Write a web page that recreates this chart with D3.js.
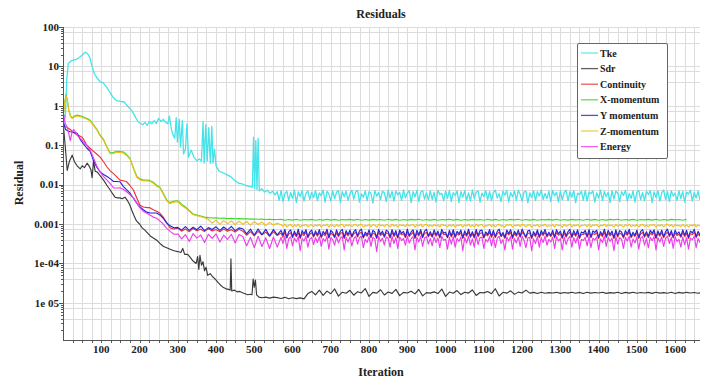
<!DOCTYPE html>
<html><head><meta charset="utf-8">
<script src="https://cdn.jsdelivr.net/npm/d3@7"></script>
<style>
html,body{margin:0;padding:0;background:#fff;}
svg text{font-family:"Liberation Serif","DejaVu Serif",serif;font-weight:bold;fill:#222;}
</style></head>
<body><svg id="c" width="708" height="380"></svg>
<script>
// ---------- DATA ----------
const seriesNames = ["Tke","Sdr","Continuity","X-momentum","Y momentum","Z-momentum","Energy"];
const seriesColors = ["#45e3ea","#3a3a3a","#e83434","#3ad82a","#2424dc","#f0c020","#ee3cee"];
const xTickValues = [100,200,300,400,500,600,700,800,900,1000,1100,1200,1300,1400,1500,1600];
const yTickValues = [100,10,1,0.1,0.01,0.001,1e-4,1e-5];
const yTickLabels = ["100","10","1","0.1","0.01","0.001","1e-04","1e 05"];

// transient parts: [iteration, residual]
const tkeStart = [[3,0.6],[6,0.5],[10,5],[14,12],[22,14],[35,15],[45,17.5],[52,20],[58,23],[64,21],[70,17],[76,10],[82,6.5],[90,5],[97,4.1],[105,3.8],[110,3.3],[118,2.6],[125,2.0],[132,1.6],[140,1.35],[150,1.3],[160,1.25],[168,1.0],[175,0.85],[182,0.7],[190,0.5],[196,0.4],[202,0.36],[208,0.33],[214,0.38],[220,0.32],[226,0.4],[232,0.35],[238,0.42],[244,0.36],[250,0.48],[256,0.4],[262,0.45],[268,0.38],[274,0.35],[278,0.55],[282,0.3],[286,0.2],[292,0.15],[296,0.5],[299,0.12],[304,0.45],[307,0.09],[312,0.42],[315,0.06],[320,0.08],[324,0.35],[328,0.05],[335,0.075],[342,0.05],[350,0.04],[356,0.045],[362,0.04],[366,0.4],[369,0.035],[373,0.33],[377,0.04],[381,0.28],[385,0.035],[389,0.3],[392,0.035],[396,0.08],[400,0.03],[408,0.022],[418,0.02],[428,0.018],[438,0.016],[448,0.013],[458,0.011],[468,0.0105],[478,0.0095],[488,0.009],[495,0.0085],[498,0.16],[501,0.008],[504,0.13],[507,0.0075],[510,0.15],[513,0.007],[520,0.0078],[527,0.0065],[534,0.0072],[541,0.006],[548,0.0068],[554,0.0055]];
const sdrStart = [[1,0.32],[6,0.09],[11,0.023],[17,0.04],[24,0.056],[30,0.038],[37,0.03],[45,0.025],[50,0.03],[56,0.027],[63,0.035],[68,0.03],[73,0.024],[76,0.015],[80,0.04],[84,0.022],[89,0.021],[97,0.017],[106,0.013],[115,0.0095],[123,0.0074],[130,0.0058],[136,0.0048],[143,0.0046],[149,0.0046],[155,0.0044],[162,0.0048],[168,0.004],[175,0.003],[180,0.0022],[186,0.0016],[192,0.0012],[200,0.001],[207,0.0008],[214,0.0007],[222,0.00058],[230,0.00048],[238,0.00043],[245,0.00039],[255,0.00031],[263,0.00027],[271,0.00025],[280,0.00023],[290,0.00021],[300,0.0002],[308,0.00019],[313,0.00024],[318,0.00017],[326,0.00017],[333,0.00014],[340,0.000115],[348,0.0001],[352,0.00015],[355,0.00007],[358,0.00016],[362,0.00009],[366,0.00011],[370,0.000065],[374,0.00008],[378,0.00005],[385,0.000055],[391,0.000046],[398,0.00004],[405,0.000033],[412,0.000028],[418,0.000025],[425,0.000023],[432,0.000022],[437,0.000021],[439,0.00013],[441,0.00002],[448,0.000021],[455,0.000019],[462,0.0000195],[469,0.000018],[476,0.000017],[483,0.000016],[490,0.0000165],[494,0.000016],[497,0.00004],[500,0.000025],[503,0.000038],[506,0.000016],[512,0.000014],[520,0.0000135],[530,0.000014],[540,0.0000132],[550,0.000014]];
const contStart = [[0,0.35],[5,0.3],[12,0.28],[19,0.25],[28,0.21],[37,0.18],[45,0.17],[50,0.16],[56,0.13],[62,0.1],[70,0.085],[80,0.07],[88,0.06],[97,0.05],[106,0.038],[115,0.028],[124,0.022],[132,0.019],[140,0.016],[149,0.013],[157,0.0125],[166,0.012],[175,0.0095],[184,0.0073],[192,0.0048],[201,0.003],[210,0.0027],[220,0.0026],[227,0.0026],[236,0.0023],[245,0.0021],[253,0.0019],[262,0.0015],[270,0.0011],[280,0.0008],[290,0.00075]];
const xmomStart = [[0,0.5],[4,1.2],[8,1.9],[11,1.5],[15,0.8],[20,0.55],[24,0.5],[30,0.55],[37,0.58],[45,0.56],[52,0.53],[58,0.5],[65,0.47],[71,0.43],[80,0.33],[89,0.25],[97,0.18],[106,0.14],[115,0.09],[123,0.064],[130,0.064],[140,0.07],[149,0.069],[158,0.067],[166,0.058],[175,0.047],[184,0.027],[193,0.016],[201,0.014],[210,0.013],[219,0.013],[227,0.0128],[236,0.0115],[245,0.0095],[253,0.0087],[262,0.006],[271,0.0041],[279,0.0035],[290,0.0038]];
const ymomStart = [[0,0.45],[4,0.3],[7,0.25],[13,0.23],[19,0.22],[28,0.21],[37,0.2],[45,0.14],[53,0.11],[62,0.085],[71,0.07],[80,0.04],[88,0.028],[97,0.021],[106,0.018],[115,0.016],[124,0.014],[132,0.012],[140,0.012],[149,0.0118],[158,0.0089],[166,0.0075],[175,0.0061],[184,0.0045],[193,0.0034],[201,0.0027],[210,0.0023],[219,0.002],[228,0.0019],[236,0.0019],[245,0.0019],[253,0.0017],[262,0.0014],[270,0.0011],[280,0.0009],[290,0.0008]];
const zmomStart = [[0,0.48],[4,1.15],[8,1.8],[11,1.42],[15,0.76],[20,0.52],[24,0.475],[30,0.52],[37,0.55],[45,0.53],[52,0.5],[58,0.475],[65,0.445],[71,0.41],[80,0.315],[89,0.238],[97,0.171],[106,0.133],[115,0.086],[123,0.061],[130,0.061],[140,0.0665],[149,0.0655],[158,0.0637],[166,0.055],[175,0.0447],[184,0.0257],[193,0.0152],[201,0.0133],[210,0.0124],[219,0.0124],[227,0.0122],[236,0.0109],[245,0.009],[253,0.0083],[262,0.0057],[271,0.0039],[279,0.0033],[290,0.0036]];
const energyStart = [[0,0.7],[3,0.5],[6,0.35],[11,0.29],[15,0.2],[19,0.13],[23,0.2],[28,0.25],[35,0.2],[41,0.16],[48,0.14],[54,0.12],[62,0.1],[71,0.075],[80,0.047],[88,0.03],[97,0.021],[106,0.016],[115,0.013],[124,0.0105],[132,0.0083],[140,0.0082],[149,0.0083],[158,0.0075],[166,0.0066],[175,0.0056],[184,0.0046],[192,0.0035],[201,0.0026],[210,0.0021],[218,0.0019],[227,0.0017],[236,0.0015],[245,0.0014],[253,0.0012],[262,0.001],[270,0.0008],[280,0.00065],[290,0.00055]];

// oscillating parts: iterations 300..560 every 10 (mid), 560/570..1670 every 5 (steady)
const tkeSteady = [ // x1e-3, from 560, every 5
6.6,4.0,7.1,3.7,5.9,6.8,3.9,6.3,4.5,7.2,3.5,6.5,5.0,7.0,3.8,6.1,6.9,4.2,6.4,4.7,
7.0,3.9,6.2,5.2,7.3,3.6,6.7,5.8,3.8,6.9,4.4,6.4,7.1,3.5,6.6,4.9,6.8,4.0,6.0,7.2,
4.3,6.5,7.1,3.6,5.8,4.8,6.9,3.9,6.6,6.0,3.4,7.0,5.1,6.3,4.1,6.8,6.2,3.7,7.2,4.6,
6.7,3.8,6.9,5.5,6.3,4.0,7.3,4.6,6.1,7.0,3.5,6.6,4.9,7.1,3.7,6.4,7.0,4.3,6.2,4.1,
6.9,4.2,6.4,3.6,7.2,5.6,6.0,3.9,6.8,4.5,7.1,3.7,6.3,5.3,6.9,3.5,6.6,4.8,7.0,4.0,
6.2,3.8,7.3,4.4,6.5,6.9,3.6,6.1,5.0,7.0,4.1,6.7,3.9,6.4,7.2,4.6,5.9,3.7,6.8,5.4,
7.1,3.6,6.3,4.9,6.9,4.0,7.2,5.7,3.8,6.5,6.8,3.5,6.2,4.7,7.0,3.9,6.6,5.1,7.3,4.2,
6.0,4.4,6.8,3.7,7.1,5.2,6.4,3.6,6.9,4.1,6.3,7.2,3.9,6.6,4.8,7.0,3.5,6.1,5.5,6.8,
4.0,7.1,3.8,6.5,5.9,6.9,3.6,6.2,4.6,7.3,3.9,6.7,5.0,6.4,3.5,7.0,4.3,6.8,6.1,3.7,
6.6,5.3,7.2,3.8,6.0,4.5,6.9,3.6,6.4,7.1,4.1,6.3,3.9,6.8,5.6,7.0,3.5,6.5,4.7,6.9,
3.8,6.2,7.3,4.2,6.6,3.7,6.9,5.1,6.1,3.9,7.0,4.4,6.7,3.6,6.4,5.8,7.2,3.8,6.3,4.6,
6.8,4.0];
const sdrSteady = [ // x1e-6, from 560, every 10
13.6,12.9,13.8,12.7,13.5,12.8,13.4,12.6,17.2,19.5,16.0,21.0,15.5,19.8,17.0,22.5,14.8,18.6,17.5,20.8,15.6,19.2,17.8,23.0,14.5,18.4,17.6,21.5,15.8,18.9,17.4,22.0,15.2,18.5,17.8,19.6,16.9,21.8,15.0,18.2,17.6,19.0,17.2,22.4,14.6,18.8,17.5,20.5,16.2,18.6,17.7,21.2,15.4,18.3,17.9,19.4,17.1,22.8,14.9,18.5,17.6,20.2,16.4,18.7,17.8,21.0,17.6,18.4,17.3,18.6,17.5,18.2,17.8,18.5,17.4,18.3,17.7,18.6,17.5,18.4,17.2,18.5,17.6,18.3,17.8,18.6,17.4,18.2,17.7,18.5,17.3,18.4,17.6,18.6,17.5,18.3,17.8,18.4,17.4,18.5,17.7,18.2,17.5,18.6,17.3,18.4,17.6,18.5,17.8,18.3,17.5,18.4];
// x1e-4, from 300, every 10
const xmomBand = [39,32,27,22,18,17,16,15,14.5,14.2,14.3,14.0,14.1,13.8,13.9,13.6,13.7,13.5,13.6,13.3,13.4,13.2,13.3,13.0,13.1,12.9,13.0,13.1,12.5,13.0,12.6,13.2,12.5,13.0,12.7,13.1,12.5,13.0,12.6,13.2,12.6,13.1,12.5,13.0,12.7,13.1,12.6,13.2,12.5,13.0,12.6,13.1,12.7,13.0,12.5,13.2,12.6,13.1,12.5,13.0,12.6,13.1,12.7,13.2,12.5,13.0,12.6,13.1,12.5,13.0,12.7,13.2,12.6,13.1,12.5,13.0,12.6,13.1,12.7,13.0,12.5,13.2,12.6,13.1,12.5,13.0,12.6,13.1,12.7,13.2,12.5,13.0,12.6,13.1,12.5,13.0,12.7,13.1,12.6,13.2,12.5,13.0,12.6,13.1,12.7,13.0,12.5,13.2,12.6,13.1,12.5,13.0,12.6,13.1,12.7,13.2,12.5,13.0,12.6,13.1,12.5,13.0,12.7,13.1,12.6,13.2,12.5,13.0,12.6,13.1,12.7,13.0,12.5,13.1];
const contMid = [7.8,6.6,7.5,6.4,7.7,6.8,7.4,6.5,7.6,6.7,7.3,6.4,7.5,6.6,7.2,6.3,7.4,6.6,5.2,6.4,5.0,6.5,5.3,6.2,4.9,6.3,5.1];
const ymomMid = [8.2,7.0,8.6,6.9,8.3,7.2,8.8,6.8,8.1,7.3,8.5,6.9,8.4,7.1,8.7,6.8,8.0,7.6,5.6,7.4,5.2,7.5,5.4,7.3,5.0,7.2,5.3];
const zmomMid = [37,29.5,25.5,21,17.2,16.2,15.3,14.5,13.0,10.5,12.6,9.8,12.2,10.2,12.0,9.6,11.8,9.9,11.6,9.4,11.5,9.7,11.2,9.2,11.0,9.5,10.4];
const energyMid = [5.6,4.2,5.4,3.6,5.7,4.4,5.3,3.4,5.5,4.3,5.6,3.5,5.2,4.1,5.5,3.3,5.4,4.8,2.8,4.6,2.5,4.9,2.7,4.5,2.4,4.7,2.6];
// x1e-4, from 570, every 5
const contSteady = [
5.9,4.6,6.2,4.4,5.6,6.0,4.5,5.8,4.8,6.1,4.3,5.7,5.1,6.2,4.5,5.5,6.0,4.7,5.9,4.9,
6.1,4.5,5.7,5.0,6.2,4.4,5.9,5.4,4.5,6.0,4.8,5.8,6.1,4.3,5.9,5.0,6.0,4.6,5.6,6.2,
4.7,5.8,6.2,4.4,5.5,4.9,6.0,4.5,5.9,5.6,4.3,6.1,5.1,5.8,4.6,6.0,5.7,4.4,6.2,4.8,
5.8,4.4,6.0,5.3,5.7,4.5,6.2,4.8,5.5,6.1,4.3,5.9,5.0,6.2,4.5,5.8,6.1,4.7,5.6,4.6,
6.0,4.9,5.8,4.4,6.2,5.4,5.5,4.5,5.9,4.7,6.1,4.5,5.7,5.2,6.0,4.3,5.8,4.9,6.2,4.6,
5.6,4.4,6.2,4.8,5.8,6.0,4.4,5.5,5.0,6.1,4.6,5.9,4.5,5.7,6.2,4.8,5.4,4.3,6.0,5.3,
6.1,4.3,5.7,4.9,6.0,4.6,6.2,5.5,4.4,5.8,5.9,4.3,5.6,4.8,6.1,4.5,5.9,5.1,6.2,4.7,
5.5,4.8,5.9,4.4,6.1,5.2,5.7,4.3,6.0,4.6,5.6,6.2,4.5,5.8,4.9,6.1,4.3,5.5,5.4,5.9,
4.6,6.1,4.5,5.8,5.4,6.0,4.3,5.6,4.8,6.2,4.5,5.9,5.0,5.7,4.3,6.1,4.7,5.9,5.5,4.4,
5.8,5.2,6.2,4.5,5.5,4.8,6.0,4.3,5.7,6.1,4.6,5.6,4.5,5.9,5.3,6.1,4.3,5.8,4.9,6.0,
4.5,5.6,6.2,4.8,5.9,4.4,6.0,5.1,5.5,4.6,6.1,4.8,5.8,4.3,5.7,5.4,6.2,4.5,5.6,4.9,
5.9];
const ymomSteady = [
6.9,5.2,7.3,4.6,6.4,7.1,4.8,6.6,5.0,7.4,4.5,6.8,5.6,7.2,4.7,6.3,7.0,4.9,6.7,5.3,
7.2,4.8,6.5,5.5,7.4,4.6,6.9,6.1,4.7,7.1,5.1,6.6,7.3,4.5,6.8,5.4,7.0,4.9,6.4,7.2,
5.0,6.7,7.4,4.6,6.2,5.3,7.1,4.8,6.9,6.3,4.5,7.3,5.5,6.6,4.9,7.0,6.4,4.7,7.2,5.2,
6.8,4.6,7.0,5.8,6.5,4.8,7.4,5.1,6.3,7.1,4.5,6.9,5.4,7.2,4.7,6.6,7.3,5.0,6.4,4.9,
7.1,5.3,6.6,4.7,7.3,5.9,6.2,4.6,6.9,5.0,7.2,4.8,6.5,5.6,7.0,4.5,6.7,5.2,7.4,4.9,
6.4,4.7,7.3,5.1,6.8,7.0,4.6,6.3,5.4,7.2,4.9,6.9,4.8,6.5,7.4,5.0,6.1,4.6,7.0,5.7,
7.2,4.6,6.5,5.3,7.0,4.9,7.4,5.8,4.7,6.7,6.9,4.5,6.4,5.2,7.1,4.8,6.8,5.5,7.3,5.0,
6.2,5.1,6.9,4.7,7.2,5.6,6.6,4.6,7.0,5.0,6.4,7.3,4.8,6.8,5.3,7.1,4.5,6.3,5.9,6.9,
4.9,7.2,4.7,6.7,6.1,7.0,4.6,6.4,5.2,7.4,4.8,6.9,5.4,6.6,4.5,7.1,5.0,6.8,6.3,4.7,
6.8,5.6,7.3,4.8,6.2,5.1,7.0,4.6,6.5,7.2,5.0,6.4,4.9,6.9,5.8,7.1,4.5,6.7,5.3,7.0,
4.8,6.4,7.4,5.1,6.8,4.7,7.0,5.5,6.3,4.9,7.1,5.2,6.9,4.6,6.6,6.0,7.3,4.8,6.5,5.3,
6.9];
const zmomSteady = [
9.6,8.7,9.9,8.4,9.3,9.8,8.5,9.5,8.8,9.9,8.3,9.4,9.0,9.8,8.5,9.2,9.7,8.6,9.5,8.9,
9.8,8.5,9.4,9.0,9.9,8.4,9.6,9.2,8.5,9.7,8.8,9.5,9.9,8.3,9.6,8.9,9.7,8.6,9.3,9.8,
8.8,9.5,9.9,8.4,9.2,8.9,9.8,8.5,9.6,9.3,8.3,9.8,9.0,9.5,8.6,9.7,9.4,8.5,9.9,8.8,
9.5,8.4,9.7,9.1,9.4,8.6,9.9,8.9,9.3,9.8,8.3,9.6,9.0,9.9,8.5,9.5,9.8,8.7,9.4,8.6,
9.7,8.9,9.5,8.4,9.9,9.2,9.3,8.5,9.6,8.8,9.8,8.4,9.4,9.1,9.7,8.3,9.5,8.9,9.9,8.6,
9.3,8.5,9.9,8.8,9.5,9.7,8.4,9.2,9.0,9.8,8.6,9.6,8.5,9.4,9.9,8.8,9.1,8.3,9.7,9.2,
9.8,8.4,9.4,8.9,9.7,8.6,9.9,9.3,8.5,9.5,9.6,8.3,9.3,8.9,9.8,8.5,9.5,9.0,9.9,8.7,
9.2,8.9,9.6,8.4,9.8,9.1,9.4,8.3,9.7,8.8,9.3,9.9,8.5,9.5,8.9,9.8,8.4,9.2,9.3,9.6,
8.6,9.8,8.5,9.5,9.2,9.7,8.4,9.3,8.9,9.9,8.6,9.6,9.0,9.4,8.3,9.8,8.8,9.5,9.1,8.4,
9.6,9.0,9.9,8.6,9.3,8.8,9.7,8.4,9.5,9.8,8.7,9.4,8.5,9.6,9.2,9.8,8.3,9.5,8.9,9.7,
8.5,9.4,9.9,8.8,9.6,8.4,9.7,9.1,9.2,8.6,9.8,8.7,9.5,8.4,9.4,9.0,9.9,8.5,9.3,8.9,
9.6];
const energySteady = [
4.6,3.2,4.9,2.4,4.2,4.7,2.8,4.4,3.5,4.8,2.1,4.3,3.7,4.9,2.6,4.1,4.6,3.0,4.5,3.4,
4.8,2.7,4.3,3.6,4.9,2.3,4.5,4.0,2.9,4.7,3.3,4.4,4.8,2.2,4.6,3.5,4.7,2.8,4.2,4.9,
3.1,4.5,4.9,2.5,4.1,3.4,4.8,2.7,4.6,4.2,2.0,4.8,3.6,4.4,2.9,4.7,4.3,2.6,4.9,3.2,
4.5,2.4,4.7,3.8,4.3,2.9,4.9,3.3,4.2,4.8,2.2,4.6,3.5,4.9,2.7,4.4,4.8,3.1,4.3,2.8,
4.7,3.4,4.4,2.5,4.9,3.9,4.1,2.3,4.6,3.1,4.8,2.6,4.3,3.6,4.7,2.1,4.5,3.3,4.9,2.9,
4.2,2.6,4.9,3.0,4.5,4.7,2.4,4.1,3.5,4.8,2.8,4.6,2.5,4.3,4.9,3.2,4.0,2.2,4.7,3.7,
4.8,2.3,4.3,3.3,4.7,2.7,4.9,3.9,2.5,4.4,4.6,2.1,4.2,3.2,4.8,2.6,4.5,3.4,4.9,2.9,
4.1,3.5,4.6,2.4,4.8,3.7,4.3,2.2,4.7,3.0,4.2,4.9,2.6,4.5,3.3,4.8,2.3,4.1,3.8,4.6,
2.8,4.8,2.5,4.4,3.9,4.7,2.2,4.2,3.4,4.9,2.7,4.6,3.6,4.4,2.1,4.8,3.1,4.5,4.1,2.4,
4.6,3.7,4.9,2.6,4.2,3.3,4.7,2.3,4.4,4.8,2.9,4.3,2.5,4.6,3.8,4.8,2.2,4.5,3.5,4.7,
2.7,4.3,4.9,3.2,4.6,2.4,4.8,3.6,4.1,2.6,4.7,3.0,4.5,2.3,4.4,4.0,4.9,2.5,4.3,3.4,
4.6];

// ---------- BUILD ----------
function build(start, segments){
  let out = start.slice();
  segments.forEach(s => { out = out.concat(s.vals.map((v,i)=>[s.from + s.step*i, v*s.unit])); });
  return out;
}
const seriesData = [
  build(tkeStart, [{from:560, step:5, unit:1e-3, vals:tkeSteady}]),
  build(sdrStart, [{from:560, step:10, unit:1e-6, vals:sdrSteady}]),
  build(contStart, [{from:300, step:10, unit:1e-4, vals:contMid},{from:570, step:5, unit:1e-4, vals:contSteady}]),
  build(xmomStart, [{from:300, step:10, unit:1e-4, vals:xmomBand}]),
  build(ymomStart, [{from:300, step:10, unit:1e-4, vals:ymomMid},{from:570, step:5, unit:1e-4, vals:ymomSteady}]),
  build(zmomStart, [{from:300, step:10, unit:1e-4, vals:zmomMid},{from:570, step:5, unit:1e-4, vals:zmomSteady}]),
  build(energyStart, [{from:300, step:10, unit:1e-4, vals:energyMid},{from:570, step:5, unit:1e-4, vals:energySteady}])
];

const svg = d3.select("#c");
const L=63, R=700, T=27, B=340;
const x = d3.scaleLinear().domain([0,1665]).range([L,R]);
const y = d3.scaleLog().domain([1.14e-6,100]).range([B,T]);

// grid
const grid = svg.append("g").attr("stroke","#dcdcdc").attr("stroke-width",1).attr("shape-rendering","crispEdges");
grid.selectAll("line.v").data(d3.range(25,1665,25)).join("line")
  .attr("x1",d=>Math.round(x(d))+0.5).attr("x2",d=>Math.round(x(d))+0.5).attr("y1",T).attr("y2",B);
const hGrid = [];
[1e2,1e1,1,1e-1,1e-2,1e-3,1e-4,1e-5,1e-6].forEach(dec=>[1,0.75,0.4].forEach(m=>{const v=dec*m; if(v<=100 && v>=1.14e-6) hGrid.push(v);}));
grid.selectAll("line.h").data(hGrid).join("line")
  .attr("x1",L).attr("x2",R).attr("y1",d=>Math.round(y(d))+0.5).attr("y2",d=>Math.round(y(d))+0.5);

// lines
svg.append("clipPath").attr("id","clip").append("rect").attr("x",L).attr("y",T-2).attr("width",R-L).attr("height",B-T+2);
const line = d3.line().x(d=>x(d[0])).y(d=>y(d[1]));
const lg = svg.append("g").attr("clip-path","url(#clip)");
seriesData.forEach((d,i)=>{
  lg.append("path").datum(d).attr("d",line).attr("fill","none")
    .attr("stroke",seriesColors[i]).attr("stroke-width", i===0?1.3:1.15).attr("stroke-linejoin","round");
});

// axes
const ax = svg.append("g").attr("stroke","#555").attr("shape-rendering","crispEdges");
ax.append("line").attr("x1",L+0.5).attr("x2",L+0.5).attr("y1",T).attr("y2",B);
ax.append("line").attr("x1",L).attr("x2",R).attr("y1",B+0.5).attr("y2",B+0.5);
const minorY = [];
[1e1,1,1e-1,1e-2,1e-3,1e-4,1e-5,1e-6].forEach(dec=>d3.range(2,10).forEach(m=>{const v=dec*m; if(v<100 && v>1.14e-6) minorY.push(v);}));
ax.selectAll("line.ym").data(minorY).join("line").attr("x1",L-2).attr("x2",L).attr("y1",d=>Math.round(y(d))+0.5).attr("y2",d=>Math.round(y(d))+0.5);
ax.selectAll("line.yM").data(yTickValues).join("line").attr("x1",L-4).attr("x2",L).attr("y1",d=>Math.round(y(d))+0.5).attr("y2",d=>Math.round(y(d))+0.5);
svg.selectAll("text.yl").data(yTickValues).join("text").attr("class","yl")
  .attr("x",L-4).attr("y",d=>y(d)).attr("dy","0.35em").attr("text-anchor","end").attr("font-size",11)
  .text((d,i)=>yTickLabels[i]);
ax.selectAll("line.xm").data(d3.range(25,1665,25)).join("line").attr("x1",d=>Math.round(x(d))+0.5).attr("x2",d=>Math.round(x(d))+0.5).attr("y1",B).attr("y2",B+3);
svg.selectAll("text.xl").data(xTickValues).join("text").attr("class","xl")
  .attr("x",d=>x(d)).attr("y",353).attr("text-anchor","middle").attr("font-size",11).text(d=>d);

// titles
svg.append("text").attr("x",381).attr("y",18).attr("text-anchor","middle").attr("font-size",12).text("Residuals");
svg.append("text").attr("x",381).attr("y",376).attr("text-anchor","middle").attr("font-size",12).text("Iteration");
svg.append("text").attr("transform","translate(23,183) rotate(-90)").attr("text-anchor","middle").attr("font-size",12).text("Residual");

// legend
const leg = svg.append("g");
leg.append("rect").attr("x",577.5).attr("y",43.5).attr("width",90).attr("height",115).attr("rx",1.5)
  .attr("fill","#fff").attr("stroke","#666").attr("stroke-width",1);
seriesNames.forEach((n,i)=>{
  const yy = 53 + i*15.6;
  leg.append("line").attr("x1",581).attr("x2",598).attr("y1",yy).attr("y2",yy).attr("stroke",seriesColors[i]).attr("stroke-width",1.3).attr("opacity",0.8);
  leg.append("text").attr("x",600).attr("y",yy).attr("dy","0.35em").attr("font-size",10).text(n);
});
</script></body></html>
